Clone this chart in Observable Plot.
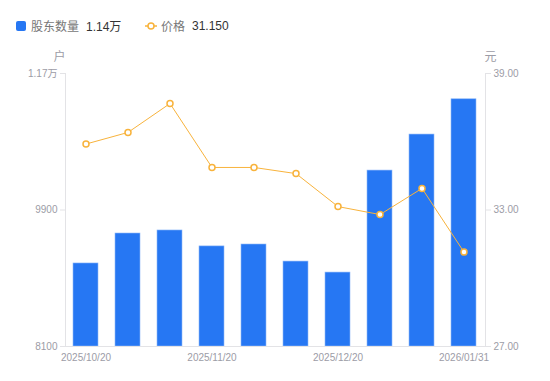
<!DOCTYPE html>
<html><head><meta charset="utf-8">
<script src="https://cdn.jsdelivr.net/npm/d3@7"></script>
<script src="https://cdn.jsdelivr.net/npm/@observablehq/plot@0.6"></script>
<style>
body{margin:0;background:#fff;font-family:"Liberation Sans","Noto Sans CJK SC",sans-serif;}
#legend{height:40px;position:relative;font-size:12px;}
.item{position:absolute;top:17px;display:flex;align-items:center;white-space:nowrap;}
.sq{width:10px;height:10px;background:#2677f3;border-radius:2px;margin-right:5px;}
.lab{color:#777;margin-right:7px;}
.val{color:#333;}
svg{display:block;}
</style></head><body>
<div id="legend">
 <div class="item" style="left:16px"><span class="sq"></span><span class="lab">股东数量</span><span class="val">1.14万</span></div>
 <div class="item" style="left:145px"><svg width="12" height="10" style="margin-right:4px"><line x1="0" y1="5" x2="12" y2="5" stroke="#f8b33c" stroke-width="1.5"/><circle cx="6" cy="5" r="3" fill="#fff" stroke="#f8b33c" stroke-width="1.5"/></svg><span class="lab">价格</span><span class="val">31.150</span></div>
</div>
<div id="chart"></div>
<script>
const dates = ["2025/10/20","2025/10/31","2025/11/10","2025/11/20","2025/11/30","2025/12/10","2025/12/20","2025/12/31","2026/01/20","2026/01/31"];
const holders = [9195, 9590, 9630, 9420, 9445, 9220, 9075, 10420, 10895, 11360];
const prices = [35.90, 36.41, 37.68, 34.87, 34.87, 34.60, 33.15, 32.80, 33.95, 31.15];
const xTicks = ["2025/10/20","2025/11/20","2025/12/20","2026/01/31"];
const leftTicks = [8100, 9900, 11700];
const rightTicks = [27, 33, 39];

const yMin = 8100, yMax = 11700, pMin = 27, pMax = 39;
const toY = p => yMin + (p - pMin) * (yMax - yMin) / (pMax - pMin);
const data = dates.map((d, i) => ({date: d, holders: holders[i], price: prices[i]}));
const grey = "#9c9ca6", axisC = "#e3e3e6", blue = "#2677f3", orange = "#f8b33c";

const chart = Plot.plot({
  width: 550, height: 341,
  marginLeft: 65, marginRight: 65, marginTop: 33, marginBottom: 35,
  style: {fontFamily: '"Liberation Sans","Noto Sans CJK SC",sans-serif', fontSize: "10px", color: grey},
  x: {type: "band", domain: dates, paddingInner: 0.4, paddingOuter: 0.2},
  y: {domain: [yMin, yMax]},
  marks: [
    Plot.barY(data, {x: "date", y1: yMin, y2: "holders", fill: blue, stroke: "#8fb8f8", strokeWidth: 0.6}),
    Plot.frame({anchor: "left", stroke: axisC}),
    Plot.frame({anchor: "right", stroke: axisC}),
    Plot.frame({anchor: "bottom", stroke: axisC}),
    Plot.axisY({anchor: "left", ticks: leftTicks, tickSize: 5, tickPadding: 3, stroke: axisC, fill: grey, label: null,
      tickFormat: d => d >= 10000 ? (d / 10000) + "万" : String(d)}),
    Plot.axisY({anchor: "right", ticks: rightTicks.map(toY), tickSize: 5, tickPadding: 3, stroke: axisC, fill: grey, label: null,
      tickFormat: v => (pMin + (v - yMin) * (pMax - pMin) / (yMax - yMin)).toFixed(2)}),
    Plot.axisX({ticks: xTicks, tickSize: 0, tickPadding: 7, fill: grey, label: null}),
    Plot.text(["户"], {frameAnchor: "top-left", textAnchor: "middle", lineAnchor: "middle", dx: -6, dy: -16, fill: grey, fontSize: 12}),
    Plot.text(["元"], {frameAnchor: "top-right", textAnchor: "middle", lineAnchor: "middle", dx: 5, dy: -16, fill: grey, fontSize: 12}),
    Plot.line(data, {x: "date", y: d => toY(d.price), stroke: orange, strokeWidth: 1}),
    Plot.dot(data, {x: "date", y: d => toY(d.price), r: 3, fill: "#fff", stroke: orange, strokeWidth: 1.5})
  ]
});
document.getElementById("chart").appendChild(chart);
</script>
</body></html>
